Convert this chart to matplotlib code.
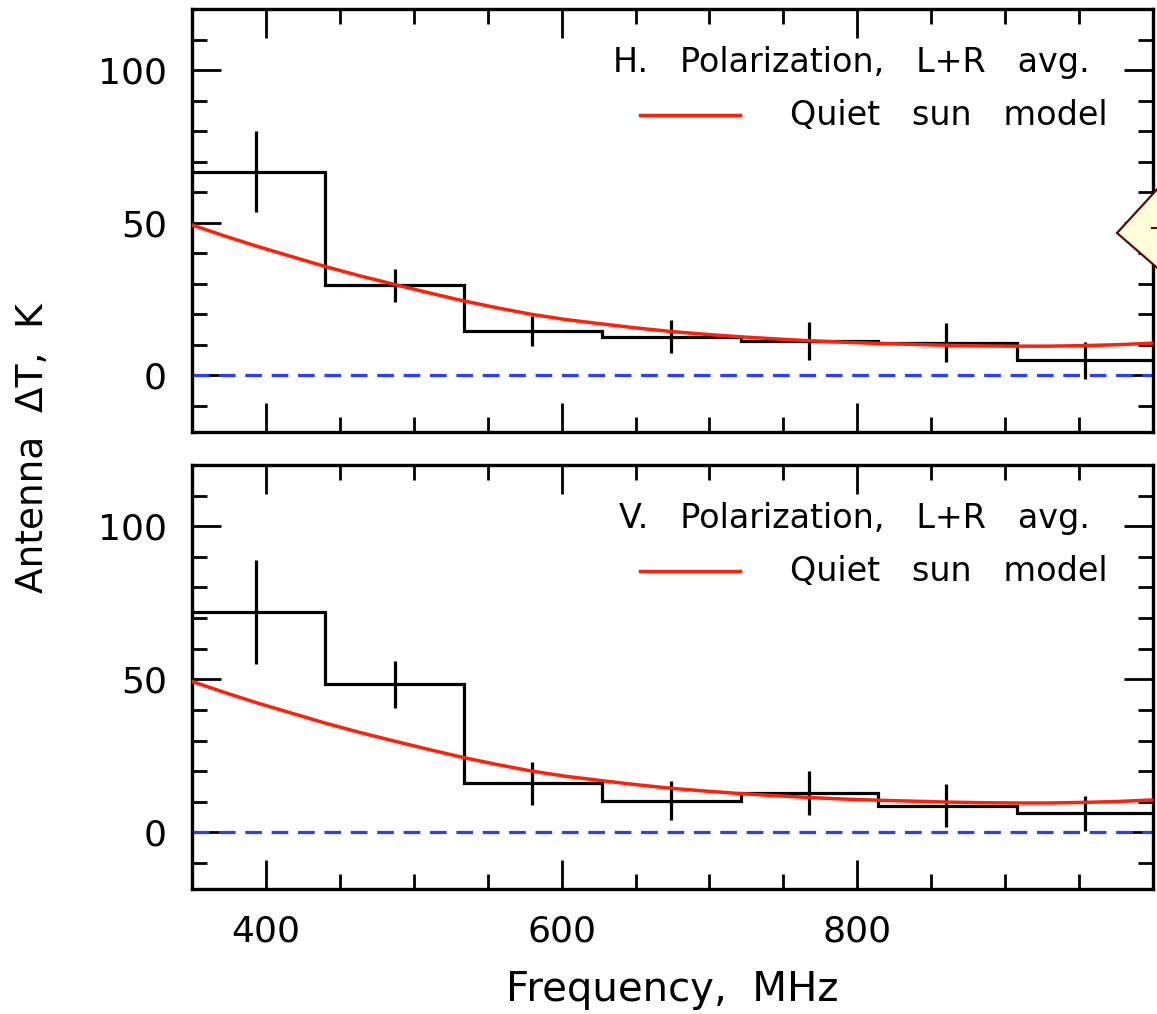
"""Antenna temperature excess vs frequency, H and V polarization, with the quiet-sun model."""

import matplotlib

matplotlib.use("Agg")
import matplotlib.pyplot as plt
from matplotlib.patches import Polygon
from matplotlib.ticker import FixedLocator, MultipleLocator

# channel bins (MHz)
bin_edges = [347, 440, 534, 627, 721, 814, 908, 1001]
bin_centers = [393, 487, 580, 674, 767, 860, 954]

# measured antenna delta-T (K) and 1-sigma errors
h_dt = [66.7, 29.5, 14.5, 12.7, 11.3, 10.8, 5.0]
h_err = [13.3, 5.5, 5.0, 5.4, 6.3, 6.3, 6.1]
v_dt = [71.9, 48.4, 16.0, 10.4, 12.9, 8.7, 6.3]
v_err = [17.0, 7.7, 7.0, 6.4, 7.3, 7.1, 5.7]

# quiet sun model, sampled
model_freq = [350, 372, 394, 417, 440, 463, 487, 510, 533, 557, 580, 603, 627,
              650, 674, 697, 720, 744, 767, 790, 814, 837, 860, 884, 907, 930,
              954, 977, 1000]
model_dt = [49.3, 45.7, 42.3, 39.0, 35.7, 32.7, 29.8, 27.1, 24.5, 22.1, 20.0,
            18.3, 16.9, 15.6, 14.4, 13.5, 12.7, 12.0, 11.4, 10.9, 10.5, 10.2,
            9.9, 9.7, 9.6, 9.6, 9.8, 10.1, 10.6]

freq_ticks = [400, 600, 800]
panel_labels = ["H.   Polarization,   L+R   avg.",
                "V.   Polarization,   L+R   avg."]
model_label = "Quiet   sun   model"

RED = "#ff200a"
BLUE = "#2b3dff"

plt.rcParams["font.family"] = "DejaVu Sans"
plt.rcParams["lines.scale_dashes"] = False

W, H = 1157, 1014
fig = plt.figure(figsize=(W / 100, H / 100), dpi=100)


def px_box(x0, y0, x1, y1):
    return [x0 / W, 1 - y1 / H, (x1 - x0) / W, (y1 - y0) / H]


ax_top = fig.add_axes(px_box(192, 9, 1153, 432))
ax_bot = fig.add_axes(px_box(192, 465, 1153, 889))

for ax, dt, err, label in [(ax_top, h_dt, h_err, panel_labels[0]),
                           (ax_bot, v_dt, v_err, panel_labels[1])]:
    ax.stairs(dt, bin_edges, baseline=None, color="black", lw=2.3, zorder=3)
    ax.errorbar(bin_centers, dt, yerr=err, fmt="none", ecolor="black",
                elinewidth=2.3, capsize=0, zorder=3)
    ax.plot(model_freq, model_dt, color=RED, lw=2.5, zorder=4)
    ax.axhline(0, color=BLUE, lw=2.3, dashes=(12, 7), zorder=2)

    ax.set_xlim(350, 1000)
    ax.set_ylim(-18.5, 120)
    ax.xaxis.set_major_locator(FixedLocator(freq_ticks))
    ax.xaxis.set_minor_locator(MultipleLocator(50))
    ax.yaxis.set_major_locator(MultipleLocator(50))
    ax.yaxis.set_minor_locator(MultipleLocator(10))
    ax.tick_params(which="both", direction="in", top=True, right=True,
                   width=2.0, color="black")
    ax.tick_params(which="major", length=21, labelsize=26, pad=18)
    ax.tick_params(which="minor", length=10.5)
    for s in ax.spines.values():
        s.set_linewidth(2.4)

    # legend block, upper right
    ax.text(0.9344, 0.851, label, transform=ax.transAxes, ha="right",
            va="baseline", fontsize=24)
    ax.text(0.9532, 0.726, model_label, transform=ax.transAxes,
            ha="right", va="baseline", fontsize=24)
    ax.plot([0.466, 0.570], [0.749, 0.749], transform=ax.transAxes,
            color=RED, lw=2.5)

ax_top.tick_params(labelbottom=False)
ax_bot.set_xlabel("Frequency,  MHz", fontsize=29, labelpad=16)
fig.text(33 / W, 1 - 448 / H, "Antenna  ΔT,  K", rotation=90, ha="center",
         va="center", fontsize=27)

# note marker sitting on the right edge
note = Polygon([(1117 / W, 1 - 233 / H), (1162 / W, 1 - 184 / H),
                (1162 / W, 1 - 272 / H)], closed=True,
               transform=fig.transFigure, facecolor="#ffffdc",
               edgecolor="#5a0a0a", lw=1.6, zorder=20)
fig.patches.append(note)
fig.lines.append(plt.Line2D([1152 / W, 1157 / W], [1 - 228 / H, 1 - 228 / H],
                            transform=fig.transFigure, color="#5a0a0a",
                            lw=1.5, zorder=21))

fig.savefig("out.png", dpi=100)
